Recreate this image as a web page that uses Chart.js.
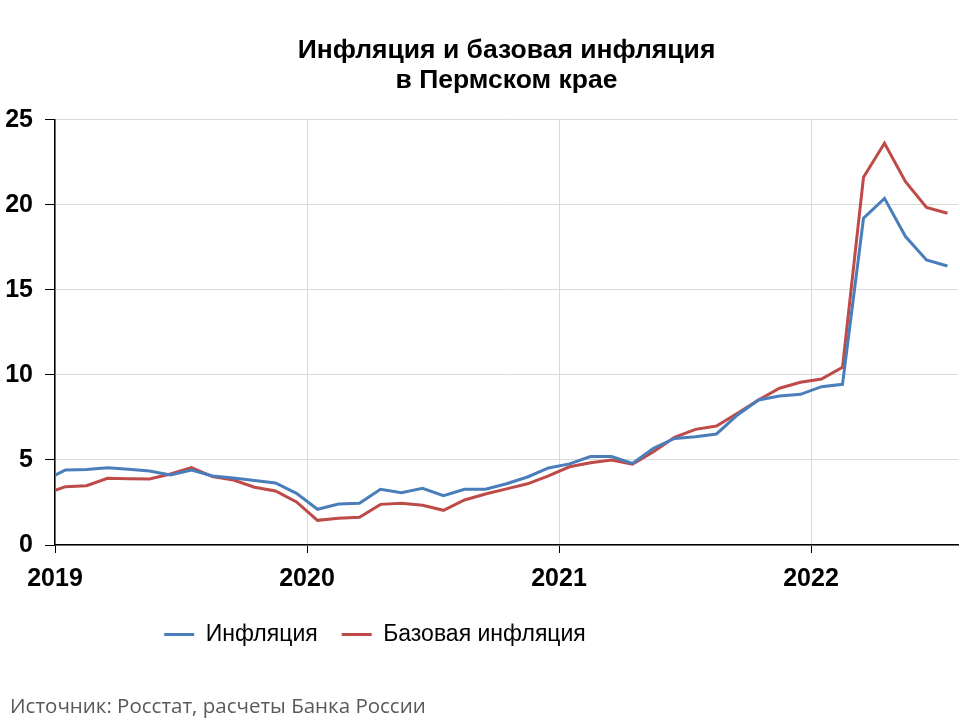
<!DOCTYPE html>
<html>
<head>
<meta charset="utf-8">
<script src="https://cdn.jsdelivr.net/npm/chart.js@4"></script>
<style>
  body { margin: 0; background: #fff; }
  #wrap { position: relative; width: 960px; height: 720px; }
  #source { position: absolute; left: 10px; top: 691px; font: 20.5px "Open Sans", sans-serif; color: #595959; }
</style>
</head>
<body>
<div id="wrap">
  <canvas id="myChart"></canvas>
  <div id="source">Источник: Росстат, расчеты Банка России</div>
</div>
<script>
// months, mid-month points (first one is clipped by the axis)
const months = ['2018-12',
  '2019-01','2019-02','2019-03','2019-04','2019-05','2019-06','2019-07','2019-08','2019-09','2019-10','2019-11','2019-12',
  '2020-01','2020-02','2020-03','2020-04','2020-05','2020-06','2020-07','2020-08','2020-09','2020-10','2020-11','2020-12',
  '2021-01','2021-02','2021-03','2021-04','2021-05','2021-06','2021-07','2021-08','2021-09','2021-10','2021-11','2021-12',
  '2022-01','2022-02','2022-03','2022-04','2022-05','2022-06','2022-07'];

const inflation = [3.8,
  4.41, 4.44, 4.55, 4.45, 4.35, 4.12, 4.41, 4.06, 3.94, 3.8, 3.65, 3.04,
  2.1, 2.41, 2.45, 3.28, 3.08, 3.34, 2.9, 3.28, 3.28, 3.6, 4.0, 4.53,
  4.77, 5.2, 5.2, 4.8, 5.69, 6.27, 6.37, 6.53, 7.65, 8.53, 8.76, 8.86,
  9.31, 9.45, 19.22, 20.39, 18.14, 16.76, 16.41];

const coreInflation = [3.0,
  3.43, 3.49, 3.92, 3.9, 3.88, 4.18, 4.55, 4.02, 3.82, 3.4, 3.18, 2.53,
  1.45, 1.58, 1.63, 2.39, 2.45, 2.34, 2.04, 2.65, 3.0, 3.3, 3.6, 4.06,
  4.6, 4.84, 5.0, 4.76, 5.49, 6.33, 6.8, 7.0, 7.75, 8.53, 9.22, 9.57,
  9.76, 10.45, 21.63, 23.63, 21.37, 19.86, 19.51];

const yearTicks = [2019, 2020, 2021, 2022];

// months since Jan 2019, point sits in the middle of its month
function monthPos(m) {
  const p = m.split('-');
  return (parseInt(p[0]) - 2019) * 12 + (parseInt(p[1]) - 1) + 0.5;
}
function points(values) {
  return values.map((v, i) => ({ x: monthPos(months[i]), y: v }));
}

// legend in the original sits left of centre
const legendShift = {
  id: 'legendShift',
  afterLayout(chart) {
    chart.legend.left -= 104;
    chart.legend.right -= 104;
  }
};

const ctx = document.getElementById('myChart').getContext('2d');
const myChart = new Chart(ctx, {
    type: 'line',
    data: {
        datasets: [{
            label: 'Инфляция',
            data: points(inflation),
            borderColor: '#4a7ebb',
            backgroundColor: '#4a7ebb',
            borderWidth: 3,
            pointRadius: 0,
            tension: 0
        }, {
            label: 'Базовая инфляция',
            data: points(coreInflation),
            borderColor: '#be4b48',
            backgroundColor: '#be4b48',
            borderWidth: 3,
            pointRadius: 0,
            tension: 0
        }]
    },
    options: {
        responsive: true,
        maintainAspectRatio: false,
        animation: false,
        layout: { padding: { left: 0, right: 2, top: 0, bottom: 64 } },
        plugins: {
            title: {
                display: true,
                fullSize: false,
                text: ['Инфляция и базовая инфляция', 'в Пермском крае'],
                color: '#000',
                font: { family: 'Liberation Sans, Arial', size: 26.5, weight: 'bold', lineHeight: 1.15 },
                padding: { top: 35, bottom: 24 }
            },
            legend: {
                position: 'bottom',
                labels: {
                    color: '#000',
                    font: { family: 'Liberation Sans, Arial', size: 23 },
                    usePointStyle: true,
                    pointStyle: 'line',
                    pointStyleWidth: 30,
                    padding: 24
                }
            },
            tooltip: { enabled: false }
        },
        scales: {
            x: {
                type: 'linear',
                min: 0,
                max: 43,
                afterBuildTicks: (scale) => {
                    scale.ticks = yearTicks.map(y => ({ value: (y - 2019) * 12 }));
                },
                afterFit: (scale) => { scale.height = 54; },
                ticks: {
                    color: '#000',
                    font: { family: 'Liberation Sans Narrow, Arial Narrow, Liberation Sans', size: 25, weight: 'bold' },
                    padding: 11,
                    maxRotation: 0,
                    callback: (v) => String(2019 + v / 12)
                },
                grid: { color: '#d9d9d9', tickColor: '#000', tickLength: 8 },
                border: { color: '#000', width: 1.5 }
            },
            y: {
                min: 0,
                max: 25,
                afterFit: (scale) => { scale.width = 55; },
                ticks: {
                    stepSize: 5,
                    color: '#000',
                    font: { family: 'Liberation Sans, Arial', size: 25, weight: 'bold' },
                    padding: 12
                },
                grid: { color: '#d9d9d9', tickColor: '#000', tickLength: 10 },
                border: { color: '#000', width: 1.5 }
            }
        }
    },
    plugins: [legendShift]
});
</script>
</body>
</html>
